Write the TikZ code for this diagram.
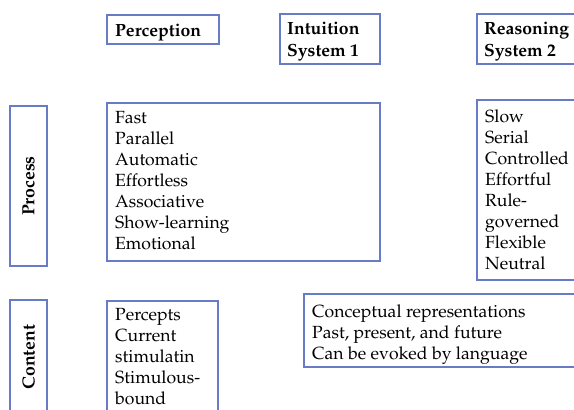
\documentclass[tikz,border=0pt]{standalone}
\usepackage[T1]{fontenc}
\usepackage{mathpazo}
\definecolor{boxblue}{RGB}{104,124,198}
\tikzset{
  box/.style={draw=boxblue, line width=1.4pt},
  txt/.style={inner sep=0pt, align=left, anchor=north west, font=\fontsize{17.6}{21}\selectfont},
  head/.style={inner sep=0pt, align=left, anchor=north west, font=\fontsize{17.6}{22}\selectfont\bfseries},
  side/.style={inner sep=0pt, rotate=90, font=\fontsize{17.6}{21}\selectfont\bfseries},
}
\begin{document}
\begin{tikzpicture}[x=1pt,y=-1pt]
\useasboundingbox (0,0) rectangle (574,410);
\clip (0,0) rectangle (574,410);
% boxes
\draw[box] (107,15) rectangle (219,44);
\draw[box] (280,14) rectangle (380,64);
\draw[box] (477,14) rectangle (620,64);
\draw[box] (10,106) rectangle (47,266);
\draw[box] (107,103) rectangle (380,261);
\draw[box] (477,100) rectangle (620,280);
\draw[box] (10,300) rectangle (47,440);
\draw[box] (107,301) rectangle (218,440);
\draw[box] (304,294) rectangle (620,367);
% header texts
\node[head] (perc) at (115,23.5) {Perception};
\node[head] (intu) at (287,21.5) {Intuition\\System 1};
\node[head] (reas) at (484,21.5) {Reasoning\\System 2};
\node[side] (proc) at (28.5,186) {Process};
\node[side] (cont) at (28.5,357) {Content};
% contents
\node[txt] (s1p) at (115,111.5) {Fast\\Parallel\\Automatic\\Effortless\\Associative\\Show-learning\\Emotional};
\node[txt] (s2p) at (485,109.5) {Slow\\Serial\\Controlled\\Effortful\\Rule-\\governed\\Flexible\\Neutral};
\node[txt] (s1c) at (115,308.5) {Percepts\\Current\\stimulatin\\Stimulous-\\bound};
\node[txt] (s2c) at (312,304.5) {Conceptual representations\\Past, present, and future\\Can be evoked by language};
\end{tikzpicture}
\end{document}
